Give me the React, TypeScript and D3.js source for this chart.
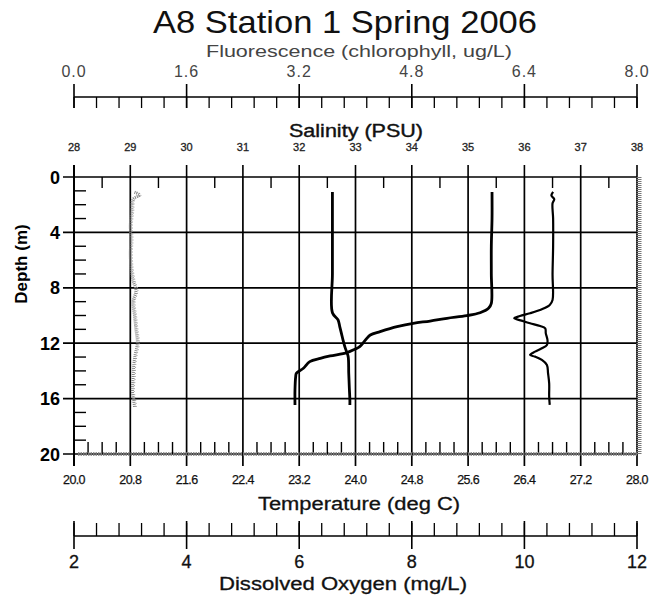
import React from 'react';
import * as d3 from 'd3';

// ---------- data ----------
const chartTitle = 'A8 Station 1 Spring 2006';
const depthTicks = [0, 4, 8, 12, 16, 20];
const fluorTicks = [0, 1.6, 3.2, 4.8, 6.4, 8.0];
const salinityTicks = [28, 29, 30, 31, 32, 33, 34, 35, 36, 37, 38];
const tempTicks = [20.0, 20.8, 21.6, 22.4, 23.2, 24.0, 24.8, 25.6, 26.4, 27.2, 28.0];
const oxygenTicks = [2, 4, 6, 8, 10, 12];

// Temperature (deg C) profile
const tempDepth = [1.08, 3, 5, 7, 9.12, 9.48, 9.8, 10.01, 10.2, 10.4, 10.56, 10.81, 11.17, 11.41, 11.72, 12.25, 12.44, 12.68, 12.92, 13.09, 13.33, 13.81, 14.17, 14.42, 15.38, 16.46];
const tempValues = [25.94, 25.94, 25.93, 25.93, 25.93, 25.89, 25.77, 25.58, 25.3, 25.06, 24.82, 24.59, 24.35, 24.21, 24.15, 24.06, 23.99, 23.88, 23.64, 23.5, 23.35, 23.26, 23.16, 23.15, 23.14, 23.14];

// Salinity (PSU) profile
const salDepth = [1.08, 4, 7, 9.8, 10.32, 10.8, 11.29, 11.8, 12.25, 12.6, 12.97, 14.17, 15.2, 16.1, 16.46];
const salValues = [32.59, 32.59, 32.59, 32.59, 32.69, 32.72, 32.75, 32.78, 32.81, 32.84, 32.87, 32.88, 32.89, 32.9, 32.9];

// Dissolved oxygen (mg/L) profile
const oxyDepth = [1.08, 1.35, 1.6, 1.9, 3, 5, 7, 8.88, 9.24, 9.55, 9.84, 10.04, 10.2, 10.37, 10.56, 10.76, 10.93, 11.29, 11.77, 12.13, 12.37, 12.61, 12.85, 12.97, 13.21, 13.57, 14.17, 14.9, 15.86, 16.46];
const oxyValues = [10.51, 10.48, 10.53, 10.5, 10.51, 10.51, 10.5, 10.5, 10.45, 10.31, 10.1, 9.92, 9.82, 9.95, 10.1, 10.28, 10.37, 10.38, 10.41, 10.4, 10.31, 10.19, 10.1, 10.19, 10.31, 10.4, 10.42, 10.44, 10.44, 10.45];

// Fluorescence (chlorophyll, ug/L) profile
const fluorDepth = [1.1, 1.3, 1.6, 2.5, 3.5, 4.5, 5.5, 6.5, 7.5, 8.2, 9, 10, 11, 12, 12.8, 13.5, 14.5, 15.5, 16.2, 16.6];
const fluorValues = [0.86, 0.93, 0.84, 0.82, 0.8, 0.81, 0.8, 0.81, 0.84, 0.88, 0.84, 0.86, 0.88, 0.9, 0.87, 0.85, 0.84, 0.83, 0.85, 0.86];

// ---------- layout ----------
const W = 653;
const H = 601;
const L = 74;
const R = 637;
const T = 177;
const B = 454;
const FONT = "Arial, 'Liberation Sans', Helvetica, sans-serif";

const yScale = d3.scaleLinear().domain([0, 20]).range([T, B]);
const tempScale = d3.scaleLinear().domain([20, 28]).range([L, R]);
const salScale = d3.scaleLinear().domain([28, 38]).range([L, R]);
const oxyScale = d3.scaleLinear().domain([2, 12]).range([L, R]);
const fluorScale = d3.scaleLinear().domain([0, 8]).range([L, R]);

function profilePath(depths: number[], values: number[], xs: d3.ScaleLinear<number, number>) {
  const pts = depths.map((d, i) => [xs(values[i]), yScale(d)] as [number, number]);
  return d3.line<[number, number]>().curve(d3.curveCatmullRom.alpha(0.5))(pts) || '';
}

export default function App() {
  const fluorMinor = d3.range(26).map((i) => i * 0.32);
  const oxyMinor = d3.range(26).map((i) => 2 + i * 0.4);
  const tempMinor = d3.range(41).map((i) => 20 + i * 0.2);
  const salMinor = d3.range(21).map((i) => 28 + i * 0.5);
  const depthMinor = d3.range(21);
  const fluorAxisY = 97;
  const oxyAxisY = 536;

  return (
    <svg width={W} height={H} style={{ position: 'absolute', left: 0, top: 0, background: '#fff' }} fontFamily={FONT}>
      <rect x={0} y={0} width={W} height={H} fill="#fff" />
      {/* Title */}
      <text x={345} y={33} fontSize={32} textAnchor="middle" textLength={384} lengthAdjust="spacingAndGlyphs" fill="#111">
        {chartTitle}
      </text>

      {/* Fluorescence axis (top) */}
      <text x={359} y={57} fontSize={17} textAnchor="middle" textLength={306} lengthAdjust="spacingAndGlyphs" fill="#444">
        Fluorescence (chlorophyll, ug/L)
      </text>
      {fluorTicks.map((t) => (
        <text key={'fl' + t} x={fluorScale(t)} y={77} fontSize={16} textAnchor="middle" fill="#444" letterSpacing={1}>
          {t.toFixed(1)}
        </text>
      ))}
      <line x1={L} x2={R} y1={fluorAxisY} y2={fluorAxisY} stroke="#000" strokeWidth={1.5} />
      {fluorMinor.map((t, i) => (
        <line key={'flm' + i} x1={fluorScale(t)} x2={fluorScale(t)} y1={fluorAxisY} y2={108} stroke="#000" strokeWidth={1.3} />
      ))}
      {fluorTicks.map((t) => (
        <line key={'flM' + t} x1={fluorScale(t)} x2={fluorScale(t)} y1={84} y2={108} stroke="#000" strokeWidth={1.6} />
      ))}

      {/* Salinity axis */}
      <text x={356} y={137} fontSize={18} textAnchor="middle" textLength={134} lengthAdjust="spacingAndGlyphs" fill="#111" stroke="#111" strokeWidth={0.4}>
        Salinity (PSU)
      </text>
      {salinityTicks.map((t) => (
        <text key={'sl' + t} x={salScale(t)} y={151} fontSize={11} textAnchor="middle" fill="#222" stroke="#222" strokeWidth={0.3}>
          {t}
        </text>
      ))}
      {salinityTicks.map((t) => (
        <line key={'sM' + t} x1={salScale(t)} x2={salScale(t)} y1={165} y2={T} stroke="#000" strokeWidth={1.6} />
      ))}
      {salMinor.filter((_, i) => i % 2 === 1).map((t, i) => (
        <line key={'sm' + i} x1={salScale(t)} x2={salScale(t)} y1={T} y2={188} stroke="#000" strokeWidth={1.4} />
      ))}

      {/* Grid */}
      {tempTicks.map((t) => (
        <line key={'gv' + t} x1={tempScale(t)} x2={tempScale(t)} y1={T} y2={466} stroke="#000" strokeWidth={1.7} />
      ))}
      {depthTicks.map((d) => (
        <line key={'gh' + d} x1={63} x2={R} y1={yScale(d)} y2={yScale(d)} stroke="#000" strokeWidth={1.7} />
      ))}
      {/* depth minor ticks */}
      {depthMinor.filter((d) => d % 4 !== 0).map((d) => (
        <line key={'dm' + d} x1={L} x2={86} y1={yScale(d)} y2={yScale(d)} stroke="#000" strokeWidth={1.4} />
      ))}
      {/* temperature minor ticks */}
      {tempMinor.filter((_, i) => i % 4 !== 0).map((t, i) => (
        <line key={'tm' + i} x1={tempScale(t)} x2={tempScale(t)} y1={442} y2={B} stroke="#000" strokeWidth={1.4} />
      ))}
      {/* textured right and bottom borders */}
      <line x1={R + 2} x2={R + 2} y1={T} y2={B} stroke="#777" strokeWidth={5} strokeDasharray="1 1" />
      <line x1={L + 4} x2={R} y1={B} y2={B} stroke="#777" strokeWidth={3.5} strokeDasharray="1.5 1" />
      <line x1={L} x2={L} y1={T - 12} y2={466} stroke="#000" strokeWidth={2} />

      {/* Depth axis labels */}
      {depthTicks.map((d) => (
        <text key={'dl' + d} x={60} y={yScale(d) + 6.5} fontSize={18} fontWeight="bold" textAnchor="end" fill="#000">
          {d}
        </text>
      ))}
      <text transform="translate(27,264) rotate(-90)" fontSize={17} fontWeight="bold" textAnchor="middle" fill="#000">
        Depth (m)
      </text>

      {/* Temperature axis labels */}
      {tempTicks.map((t) => (
        <text key={'tl' + t} x={tempScale(t)} y={484} fontSize={12.5} textAnchor="middle" fill="#111" letterSpacing={-0.6} stroke="#111" strokeWidth={0.25}>
          {t.toFixed(1)}
        </text>
      ))}
      <text x={359} y={510} fontSize={18} textAnchor="middle" textLength={202} lengthAdjust="spacingAndGlyphs" fill="#111" stroke="#111" strokeWidth={0.3}>
        Temperature (deg C)
      </text>

      {/* Dissolved oxygen axis */}
      <line x1={L} x2={R} y1={oxyAxisY} y2={oxyAxisY} stroke="#000" strokeWidth={1.5} />
      {oxyMinor.map((t, i) => (
        <line key={'om' + i} x1={oxyScale(t)} x2={oxyScale(t)} y1={523} y2={oxyAxisY} stroke="#000" strokeWidth={1.3} />
      ))}
      {oxygenTicks.map((t) => (
        <line key={'oM' + t} x1={oxyScale(t)} x2={oxyScale(t)} y1={521} y2={549} stroke="#000" strokeWidth={1.6} />
      ))}
      {oxygenTicks.map((t) => (
        <text key={'ol' + t} x={oxyScale(t)} y={568} fontSize={18} textAnchor="middle" fill="#111" stroke="#111" strokeWidth={0.3}>
          {t}
        </text>
      ))}
      <text x={343} y={590} fontSize={18} textAnchor="middle" textLength={248} lengthAdjust="spacingAndGlyphs" fill="#111" stroke="#111" strokeWidth={0.3}>
        Dissolved Oxygen (mg/L)
      </text>

      {/* Profiles */}
      <path d={profilePath(fluorDepth, fluorValues, fluorScale)} fill="none" stroke="#888" strokeWidth={3} strokeDasharray="1 1" />
      <path d={profilePath(fluorDepth, fluorValues, fluorScale)} fill="none" stroke="#999" strokeWidth={1} transform="translate(2,0)" strokeDasharray="1 2" />
      <path d={profilePath(salDepth, salValues, salScale)} fill="none" stroke="#000" strokeWidth={2.8} />
      <path d={profilePath(tempDepth, tempValues, tempScale)} fill="none" stroke="#000" strokeWidth={2.8} />
      <path d={profilePath(oxyDepth, oxyValues, oxyScale)} fill="none" stroke="#000" strokeWidth={2.2} />
    </svg>
  );
}
